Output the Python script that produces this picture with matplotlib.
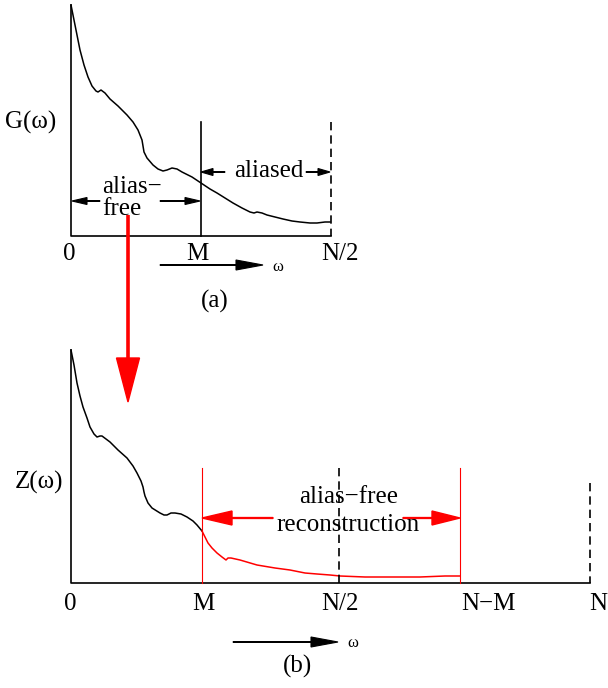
import matplotlib.pyplot as plt

plt.rcParams['font.family'] = ['Liberation Serif', 'DejaVu Serif']

# Spectrum sketches (figure pixel coordinates, y grows downwards)
g_x = [71, 74, 77, 80, 84, 88, 92, 96, 98, 101, 105, 110, 118, 127, 133, 138, 142, 143, 144,
       147, 153, 158, 163, 167, 172, 177, 182, 192, 201, 210, 217, 225, 233, 242, 250, 254,
       257, 262, 267, 275, 283, 292, 300, 310, 317, 325, 330]
g_y = [5, 20, 35, 50, 65, 77, 86, 91, 92, 90, 93, 99, 106, 115, 122, 130, 140, 146, 152,
       158, 165, 169, 171, 170, 168, 169, 172, 177, 183, 189, 193, 198, 203, 208, 212, 213,
       212, 213, 215, 217, 219, 221, 222, 223, 223, 222, 222]

z_x = [71, 74, 77, 80, 83, 87, 90, 94, 97, 100, 102, 106, 110, 118, 127, 133, 137, 141, 143,
       144, 145, 148, 152, 160, 164, 167, 171, 175, 181, 187, 193, 197, 202]
z_y = [350, 365, 383, 396, 407, 418, 427, 434, 437, 436, 436, 439, 442, 450, 458, 466, 473,
       481, 487, 492, 496, 503, 508, 513, 515, 515, 513, 513, 514, 517, 521, 525, 531]

recon_x = [202, 205, 208, 212, 217, 222, 226, 228, 231, 240, 257, 275, 290, 305, 317, 330,
           340, 365, 390, 420, 445, 460]
recon_y = [531, 537, 543, 548, 553, 557, 560, 558, 558, 560, 565, 568, 570, 573, 574, 575,
           576, 577, 577, 577, 576, 576]

# Axis positions
top_ticks_x = [69, 197, 340]
top_ticks = ['0', 'M', 'N/2']
bot_ticks_x = [70, 203, 340, 488, 598]
bot_ticks = ['0', 'M', 'N/2', 'N\u2212M', 'N']

fig = plt.figure(figsize=(6.08, 6.88), dpi=100)
ax = fig.add_axes([0, 0, 1, 1])
ax.set_xlim(0, 608)
ax.set_ylim(688, 0)
ax.axis('off')

k = 'black'
r = 'red'
fs = 18

# ---- panel (a) ----
ax.plot([71, 71, 331], [5, 236, 236], color=k, lw=1.2)
ax.plot(g_x, g_y, color=k, lw=1.1)
ax.plot([201, 201], [122, 236], color=k, lw=1.2)
ax.plot([331, 331], [122, 236], color=k, lw=1.2, ls=(0, (5, 3)))

hw = 7
ax.arrow(100, 201, -28, 0, color=k, lw=0.8, width=0.3, head_width=hw, head_length=15,
         length_includes_head=True)
ax.arrow(160, 201, 40, 0, color=k, lw=0.8, width=0.3, head_width=hw, head_length=15,
         length_includes_head=True)
ax.arrow(225, 172, -24, 0, color=k, lw=0.8, width=0.3, head_width=hw, head_length=12,
         length_includes_head=True)
ax.arrow(306, 172, 24, 0, color=k, lw=0.8, width=0.3, head_width=hw, head_length=12,
         length_includes_head=True)

ax.text(102, 187, 'alias\u2212', fontsize=fs, ha='left', va='center')
ax.text(102, 209, 'free', fontsize=fs, ha='left', va='center')
ax.text(269, 171, 'aliased', fontsize=fs, ha='center', va='center')
ax.text(31, 122, 'G(\u03c9)', fontsize=fs, ha='center', va='center')

for x, lab in zip(top_ticks_x, top_ticks):
    ax.text(x, 254, lab, fontsize=fs, ha='center', va='center')
ax.arrow(160, 265, 103, 0, color=k, lw=0.8, width=0.3, head_width=10, head_length=27,
         length_includes_head=True)
ax.text(278, 267, '\u03c9', fontsize=12, ha='center', va='center')
ax.text(215, 301, '(a)', fontsize=fs, ha='center', va='center')

# big red arrow linking the panels
ax.plot([128, 128], [215, 362], color=r, lw=2.6, solid_capstyle='butt')
ax.arrow(128, 358, 0, 44, color=r, width=0.5, head_width=23, head_length=44,
         length_includes_head=True)

# ---- panel (b) ----
ax.plot([71, 71, 590], [350, 583, 583], color=k, lw=1.2)
ax.plot(z_x, z_y, color=k, lw=1.1)
ax.plot(recon_x, recon_y, color=r, lw=1.1)
ax.plot([202, 202], [468, 583], color=r, lw=0.8)
ax.plot([460, 460], [468, 583], color=r, lw=0.8)
ax.plot([339, 339], [468, 583], color=k, lw=1.2, ls=(0, (5, 3)))
ax.plot([590, 590], [483, 583], color=k, lw=1.2, ls=(0, (5, 3)))

ax.arrow(273, 518, -71, 0, color=r, width=0.9, head_width=14, head_length=30,
         length_includes_head=True)
ax.arrow(403, 518, 57, 0, color=r, width=0.9, head_width=14, head_length=28,
         length_includes_head=True)
ax.text(349, 497, 'alias\u2212free', fontsize=fs, ha='center', va='center')
ax.text(348, 525, 'reconstruction', fontsize=fs, ha='center', va='center')
ax.text(39, 482, 'Z(\u03c9)', fontsize=fs, ha='center', va='center')

for x, lab in zip(bot_ticks_x, bot_ticks):
    ax.text(x, 604, lab, fontsize=fs, ha='center', va='center')
ax.arrow(233, 642, 105, 0, color=k, lw=0.8, width=0.3, head_width=10, head_length=27,
         length_includes_head=True)
ax.text(353, 643, '\u03c9', fontsize=12, ha='center', va='center')
ax.text(298, 666, '(b)', fontsize=fs, ha='center', va='center')

fig.savefig('out.png', dpi=100)
